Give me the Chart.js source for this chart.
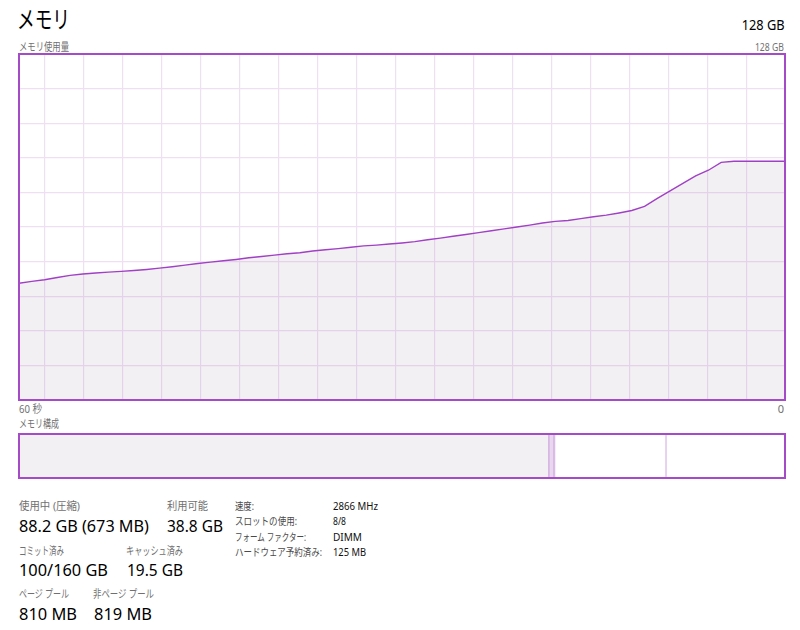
<!DOCTYPE html>
<html><head><meta charset="utf-8">
<script src="https://cdn.jsdelivr.net/npm/chart.js@4"></script>
<style>
html,body{margin:0;padding:0;background:#fff;width:800px;height:630px;overflow:hidden;font-family:"Noto Sans","Noto Sans CJK JP",sans-serif;}
.t{position:absolute;white-space:nowrap;line-height:1;transform-origin:left center;}
.r{transform-origin:right center;}
.lab{color:#707070;font-size:11px;}
.val{color:#000;font-size:17px;}
.rl{color:#4a4a4a;font-size:10.5px;}
.rv{color:#111;font-size:10.5px;}
#c1{position:absolute;left:18px;top:53px;}
#c2{position:absolute;left:18px;top:433px;}
</style></head><body>
<div class="t" data-w="53" style="left:17px;top:7px;font-size:24px;font-weight:400;color:#000;">メモリ</div>
<div class="t r" data-w="43" style="right:15px;top:17px;font-size:14.5px;color:#000;">128 GB</div>
<div class="t lab" data-w="50" style="left:19px;top:41px;">メモリ使用量</div>
<div class="t lab r" data-w="29" style="right:16px;top:41px;">128 GB</div>
<div class="t lab" data-w="23" style="left:19px;top:403px;">60 秒</div>
<div class="t lab r" style="right:16px;top:403px;">0</div>
<div class="t lab" data-w="40" style="left:19px;top:418px;">メモリ構成</div>

<div class="t lab" data-w="61" style="left:19px;top:500px;">使用中 (圧縮)</div>
<div class="t val" data-w="130" style="left:19px;top:517px;">88.2 GB (673 MB)</div>
<div class="t lab" data-w="41" style="left:167px;top:500px;">利用可能</div>
<div class="t val" data-w="56" style="left:167px;top:517px;">38.8 GB</div>

<div class="t rl" data-w="19" style="left:235px;top:501px;">速度:</div>
<div class="t rv" data-w="45" style="left:333px;top:501px;">2866 MHz</div>
<div class="t rl" data-w="62" style="left:235px;top:516px;">スロットの使用:</div>
<div class="t rv" data-w="13" style="left:333px;top:516px;">8/8</div>
<div class="t rl" data-w="71" style="left:235px;top:532px;">フォーム ファクター:</div>
<div class="t rv" data-w="29" style="left:333px;top:532px;">DIMM</div>
<div class="t rl" data-w="87" style="left:235px;top:547px;">ハードウェア予約済み:</div>
<div class="t rv" data-w="33" style="left:333px;top:547px;">125 MB</div>

<div class="t lab" data-w="45" style="left:19px;top:545px;">コミット済み</div>
<div class="t val" data-w="89" style="left:19px;top:561px;">100/160 GB</div>
<div class="t lab" data-w="57" style="left:126px;top:545px;">キャッシュ済み</div>
<div class="t val" data-w="56" style="left:127px;top:561px;">19.5 GB</div>

<div class="t lab" data-w="50" style="left:19px;top:588px;">ページ プール</div>
<div class="t val" data-w="58" style="left:19px;top:605px;">810 MB</div>
<div class="t lab" data-w="61" style="left:93px;top:588px;">非ページ プール</div>
<div class="t val" data-w="58" style="left:94px;top:605px;">819 MB</div>

<canvas id="c1" width="768" height="348"></canvas>
<canvas id="c2" width="768" height="46"></canvas>
<script>
// memory usage (GB), one sample per second, 60 s ago -> now
const usageGB = [43.2,43.9,44.5,45.3,46.1,46.6,47.0,47.3,47.6,47.9,48.3,48.8,49.3,49.9,50.5,51.0,51.5,52.0,52.6,53.1,53.6,54.1,54.5,55.1,55.6,56.0,56.5,57.0,57.3,57.7,58.1,58.6,59.3,59.9,60.6,61.2,61.9,62.6,63.3,64.0,64.7,65.5,66.1,66.4,67.1,67.8,68.4,69.2,70.1,71.6,74.6,77.4,80.1,82.9,85.0,87.9,88.3,88.3,88.3,88.3,88.3];
const totalGB = 128;
const seconds = 60;
// memory composition (GB)
const compNames = ['使用中','変更済み','スタンバイ','空き'];
const compGB = [88.7, 0.9, 18.6, 19.8];

function fitText(){
  document.querySelectorAll('[data-w]').forEach(el=>{
    const w = parseFloat(el.dataset.w);
    const cur = el.getBoundingClientRect().width;
    if (cur > 0) el.style.transform = 'scaleX(' + (w/cur) + ')';
  });
}
if (document.fonts && document.fonts.ready) document.fonts.ready.then(fitText); else fitText();

const purple = 'rgb(160,64,196)';
const gridCol = '#eedff3';
const fillCol = 'rgba(120,90,130,0.09)';

const borderPlugin = {
  id:'frame',
  afterDraw(chart){
    const a = chart.chartArea, c = chart.ctx;
    c.save(); c.strokeStyle = 'rgb(165,75,200)'; c.lineWidth = 2;
    c.strokeRect(a.left, a.top, a.right-a.left, a.bottom-a.top);
    c.restore();
  }
};

const pts = usageGB.map((v,i)=>({x:i, y:v}));
// scrolling grid phase (s) and column width (s)
const gridPhase = 2.04, gridStep = 3.054;
new Chart(document.getElementById('c1'), {
  type:'line',
  data:{datasets:[{data:pts, borderColor:purple, borderWidth:1.4, backgroundColor:fillCol, fill:'origin', pointRadius:0, tension:0}]},
  options:{
    responsive:false, animation:false,
    layout:{padding:1},
    plugins:{legend:{display:false}, tooltip:{enabled:false}},
    scales:{
      x:{type:'linear', min:0, max:seconds,
         afterBuildTicks(s){ const t=[]; for(let v=gridPhase; v<seconds; v+=gridStep) t.push({value:v}); s.ticks=t; },
         ticks:{display:false}, grid:{color:gridCol, drawTicks:false, lineWidth:1.2}, border:{display:false}},
      y:{min:0, max:totalGB, ticks:{display:false, stepSize:totalGB/10}, grid:{color:gridCol, drawTicks:false, lineWidth:1.2}, border:{display:false}}
    }
  },
  plugins:[borderPlugin]
});

const compColors = ['rgba(120,90,130,0.09)','rgba(175,110,200,0.28)','#ffffff','#ffffff'];
const compBorders = [{right:1.5},{right:1.5},{right:1.5},0];
new Chart(document.getElementById('c2'), {
  type:'bar',
  data:{labels:['mem'], datasets: compGB.map((v,i)=>({label:compNames[i], data:[v], backgroundColor:compColors[i], borderColor:'rgb(220,190,232)', borderWidth:compBorders[i], borderSkipped:false, barPercentage:1, categoryPercentage:1}))},
  options:{
    indexAxis:'y', responsive:false, animation:false,
    layout:{padding:1},
    plugins:{legend:{display:false}, tooltip:{enabled:false}},
    scales:{
      x:{stacked:true, min:0, max:totalGB, display:false},
      y:{stacked:true, display:false}
    }
  },
  plugins:[borderPlugin]
});
</script>
</body></html>
